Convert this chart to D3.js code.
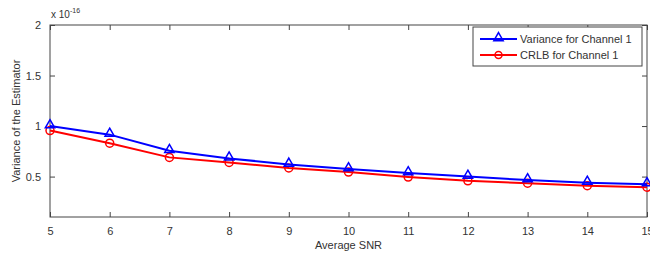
<!DOCTYPE html>
<html>
<head>
<meta charset="utf-8">
<script src="https://cdn.jsdelivr.net/npm/d3@7.9.0/dist/d3.min.js"></script>
<style>
  body { margin: 0; background: #fff; }
  svg { display: block; font-family: "Liberation Sans", Arial, sans-serif; }
</style>
</head>
<body>
<svg id="chart" width="650" height="256"></svg>
<script>
// Data (values in units of 1e-16)
const snr = [5, 6, 7, 8, 9, 10, 11, 12, 13, 14, 15];
const variance = [1.0, 0.915, 0.755, 0.68, 0.62, 0.574, 0.535, 0.5, 0.465, 0.44, 0.425];
const crlb = [0.955, 0.83, 0.69, 0.64, 0.585, 0.545, 0.495, 0.458, 0.435, 0.41, 0.395];
const xTicks = [5, 6, 7, 8, 9, 10, 11, 12, 13, 14, 15];
const yTicks = [0.5, 1, 1.5, 2];
const seriesNames = ['Variance for Channel 1', 'CRLB for Channel 1'];

const width = 650, height = 256;
const margin = { top: 25, right: 3, bottom: 39, left: 50 };
const axisColor = '#444';

const svg = d3.select('#chart');

const x = d3.scaleLinear().domain([5, 15]).range([margin.left, width - margin.right]);
const y = d3.scaleLinear().domain([0.1, 2]).range([height - margin.bottom, margin.top]);

// Plot box
svg.append('rect')
  .attr('x', x(5)).attr('y', y(2))
  .attr('width', x(15) - x(5)).attr('height', y(0.1) - y(2))
  .attr('fill', 'none').attr('stroke', axisColor).attr('stroke-width', 1);

// Axes, ticks inward
const tickLen = -5;
const fmt = (d) => d3.format('~g')(d);
svg.append('g')
  .attr('transform', `translate(0,${y(0.1)})`)
  .call(d3.axisBottom(x).tickValues(xTicks).tickSize(tickLen).tickPadding(10).tickFormat(fmt));
svg.append('g')
  .attr('transform', `translate(0,${y(2)})`)
  .call(d3.axisTop(x).tickValues(xTicks).tickSize(tickLen).tickFormat(''));
svg.append('g')
  .attr('transform', `translate(${x(5)},0)`)
  .call(d3.axisLeft(y).tickValues(yTicks).tickSize(tickLen).tickPadding(9).tickFormat(fmt));
svg.append('g')
  .attr('transform', `translate(${x(15)},0)`)
  .call(d3.axisRight(y).tickValues(yTicks).tickSize(tickLen).tickFormat(''));

svg.selectAll('.domain').remove();
svg.selectAll('.tick line').attr('stroke', axisColor);
svg.selectAll('.tick text').attr('fill', '#333').style('font-size', '11px');

// Exponent
const expo = svg.append('text').attr('x', x(5) + 1).attr('y', 18)
  .attr('fill', '#333').style('font-size', '10px');
expo.append('tspan').text('x 10');
expo.append('tspan').attr('dy', -5).style('font-size', '7px').text('-16');

// Axis labels
svg.append('text')
  .attr('x', (x(5) + x(15)) / 2).attr('y', 249)
  .attr('text-anchor', 'middle').attr('fill', '#333').style('font-size', '11px')
  .text('Average SNR');
svg.append('text')
  .attr('transform', `translate(20,${(y(2) + y(0.1)) / 2}) rotate(-90)`)
  .attr('text-anchor', 'middle').attr('fill', '#333').style('font-size', '11px')
  .text('Variance of the Estimator');

const line = d3.line().x((d, i) => x(snr[i])).y((d) => y(d));
const triangle = d3.symbol().type(d3.symbolTriangle).size(38);

function drawSeries(values, color, marker) {
  svg.append('path').datum(values)
    .attr('fill', 'none').attr('stroke', color).attr('stroke-width', 2)
    .attr('d', line);
  const g = svg.append('g');
  values.forEach((v, i) => {
    if (marker === 'tri') {
      g.append('path').attr('d', triangle)
        .attr('transform', `translate(${x(snr[i])},${y(v) - 1})`)
        .attr('fill', 'none').attr('stroke', color).attr('stroke-width', 1.5);
    } else {
      g.append('circle').attr('cx', x(snr[i])).attr('cy', y(v)).attr('r', 4)
        .attr('fill', 'none').attr('stroke', color).attr('stroke-width', 1.5);
    }
  });
}

drawSeries(crlb, '#ff0000', 'circle');
drawSeries(variance, '#0000ff', 'tri');

// Legend
const lg = svg.append('g');
lg.append('rect').attr('x', 473).attr('y', 27).attr('width', 169).attr('height', 39)
  .attr('fill', '#fff').attr('stroke', axisColor).attr('stroke-width', 1);
const legendItems = [
  { name: seriesNames[0], color: '#0000ff', marker: 'tri', yy: 39 },
  { name: seriesNames[1], color: '#ff0000', marker: 'circle', yy: 55 },
];
legendItems.forEach((d) => {
  lg.append('line').attr('x1', 480).attr('x2', 517).attr('y1', d.yy).attr('y2', d.yy)
    .attr('stroke', d.color).attr('stroke-width', 2);
  if (d.marker === 'tri') {
    lg.append('path').attr('d', triangle).attr('transform', `translate(498.5,${d.yy - 1})`)
      .attr('fill', 'none').attr('stroke', d.color).attr('stroke-width', 1.5);
  } else {
    lg.append('circle').attr('cx', 498.5).attr('cy', d.yy).attr('r', 3.5)
      .attr('fill', 'none').attr('stroke', d.color).attr('stroke-width', 1.5);
  }
  lg.append('text').attr('x', 520).attr('y', d.yy + 4)
    .attr('fill', '#333').style('font-size', '11px').text(d.name);
});
</script>
</body>
</html>
